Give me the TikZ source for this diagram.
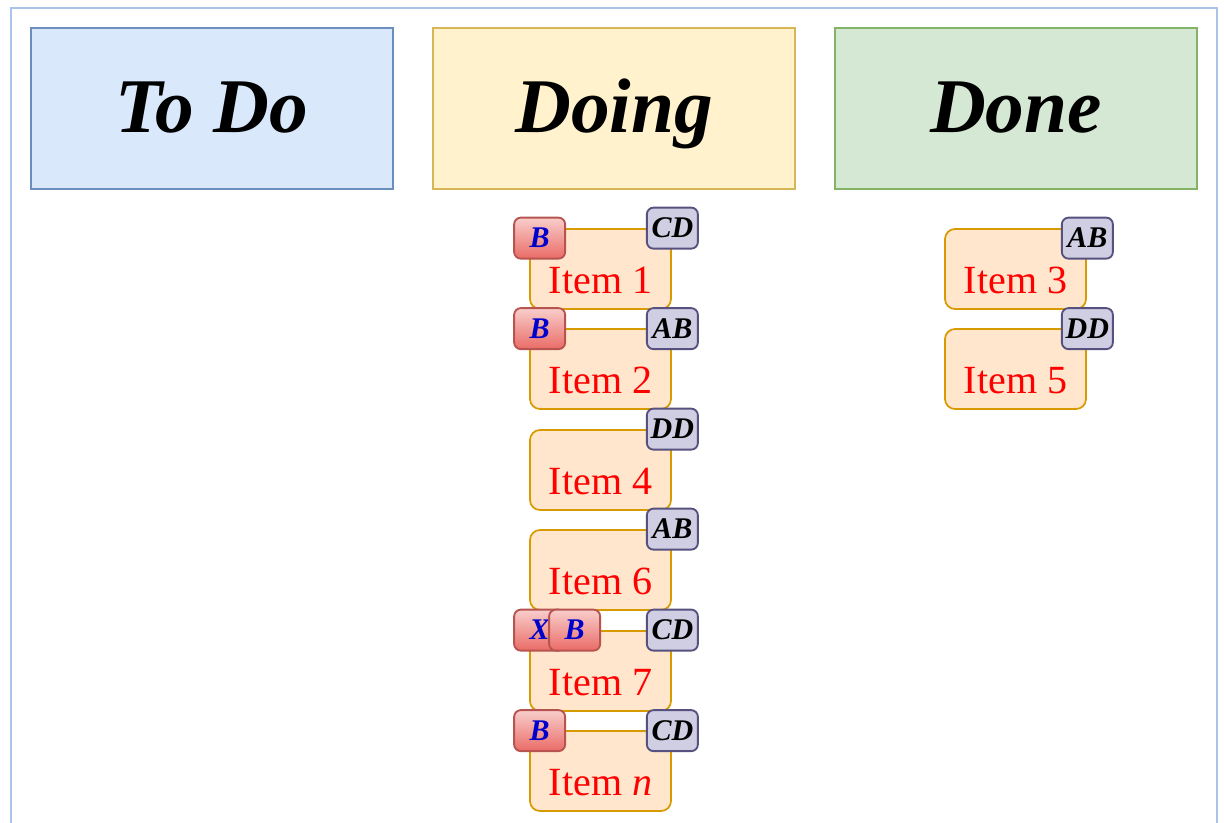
\documentclass[tikz,border=0pt]{standalone}
\usepackage{fontspec}
\setmainfont{Liberation Serif}
\usetikzlibrary{calc}
\definecolor{framec}{HTML}{A9C4EB}
\definecolor{todofill}{HTML}{DAE8FC}
\definecolor{todoline}{HTML}{6C8EBF}
\definecolor{doingfill}{HTML}{FFF2CC}
\definecolor{doingline}{HTML}{D6B656}
\definecolor{donefill}{HTML}{D5E8D4}
\definecolor{doneline}{HTML}{82B366}
\definecolor{cardfill}{HTML}{FFE6CC}
\definecolor{cardline}{HTML}{D79B00}
\definecolor{tagfill}{HTML}{D0CEE2}
\definecolor{tagline}{HTML}{56517E}
\definecolor{redtop}{HTML}{F8CECC}
\definecolor{redbot}{HTML}{EA6B66}
\definecolor{redline}{HTML}{B85450}
\definecolor{bluetxt}{HTML}{0000CC}
\begin{document}
\begin{tikzpicture}[x=0.75pt,y=-0.75pt,
  frame/.style={draw=framec,line width=1.5pt},
  header/.style={rectangle,line width=1.2pt,minimum width=271.5pt,minimum height=120.75pt,inner sep=0pt},
  headtxt/.style={anchor=base,inner sep=0pt,font=\fontsize{58}{60}\selectfont\bfseries\itshape},
  card/.style={rectangle,rounded corners=7.5pt,draw=cardline,fill=cardfill,line width=1.3pt,minimum width=105.75pt,minimum height=60pt,inner sep=0pt},
  itemtxt/.style={anchor=base,inner sep=0pt,text=red,font=\fontsize{30}{32}\selectfont},
  tagbox/.style={rectangle,rounded corners=5pt,draw=tagline,fill=tagfill,line width=1.4pt,minimum width=38.25pt,minimum height=30.75pt,inner sep=0pt,text height=14.6pt,text depth=0pt,font=\fontsize{22.5}{24}\selectfont\bfseries\itshape},
  redtag/.style={rectangle,rounded corners=5pt,draw=redline,top color=redtop,bottom color=redbot,line width=1.4pt,minimum width=38.25pt,minimum height=30.75pt,inner sep=0pt,text height=14.6pt,text depth=0pt,text=bluetxt,font=\fontsize{22.5}{24}\selectfont\bfseries\itshape}
]
\useasboundingbox (0,0) rectangle (1224,823);
\clip (0,0) rectangle (1224,823);
\draw[frame] (11,8) rectangle (1217,900);

% headers
\node[header,fill=todofill,draw=todoline] (todo) at (212,108.5) {};
\node[headtxt] (todot) at (212,133) {To Do};
\node[header,fill=doingfill,draw=doingline] (doing) at (614,108.5) {};
\node[headtxt] (doingt) at (614,133) {Doing};
\node[header,fill=donefill,draw=doneline] (done) at (1016,108.5) {};
\node[headtxt] (donet) at (1016,133) {Done};

% Doing column cards
\node[card] (c1) at (600.5,269) {};
\node[itemtxt] (l1) at ($(c1.north)+(0,65)$) {Item 1};
\node[redtag] (b1) at ($(c1.north west)+(10.5,10)$) {B};
\node[tagbox] (t1) at ($(c1.north east)+(0.5,0)$) {CD};

\node[card] (c2) at (600.5,369) {};
\node[itemtxt] (l2) at ($(c2.north)+(0,65)$) {Item 2};
\node[redtag] (b2) at ($(c2.north west)+(10.5,0.5)$) {B};
\node[tagbox] (t2) at ($(c2.north east)+(0.5,0.5)$) {AB};

\node[card] (c4) at (600.5,470) {};
\node[itemtxt] (l4) at ($(c4.north)+(0,65)$) {Item 4};
\node[tagbox] (t4) at ($(c4.north east)+(0.5,0)$) {DD};

\node[card] (c6) at (600.5,570) {};
\node[itemtxt] (l6) at ($(c6.north)+(0,65)$) {Item 6};
\node[tagbox] (t6) at ($(c6.north east)+(0.5,0)$) {AB};

\node[card] (c7) at (600.5,671) {};
\node[itemtxt] (l7) at ($(c7.north)+(0,65)$) {Item 7};
\node[redtag] (x7) at ($(c7.north west)+(10.5,0)$) {X};
\node[redtag] (b7) at ($(c7.north west)+(45.5,0)$) {B};
\node[tagbox] (t7) at ($(c7.north east)+(0.5,0)$) {CD};

\node[card] (cn) at (600.5,771) {};
\node[itemtxt] (ln) at ($(cn.north)+(0,65)$) {Item \textit{n}};
\node[redtag] (bn) at ($(cn.north west)+(10.5,0.5)$) {B};
\node[tagbox] (tn) at ($(cn.north east)+(0.5,0.5)$) {CD};

% Done column cards
\node[card] (c3) at (1015.5,269) {};
\node[itemtxt] (l3) at ($(c3.north)+(0,65)$) {Item 3};
\node[tagbox] (t3) at ($(c3.north east)+(0.5,10)$) {AB};

\node[card] (c5) at (1015.5,369) {};
\node[itemtxt] (l5) at ($(c5.north)+(0,65)$) {Item 5};
\node[tagbox] (t5) at ($(c5.north east)+(0.5,0.5)$) {DD};
\end{tikzpicture}
\end{document}
